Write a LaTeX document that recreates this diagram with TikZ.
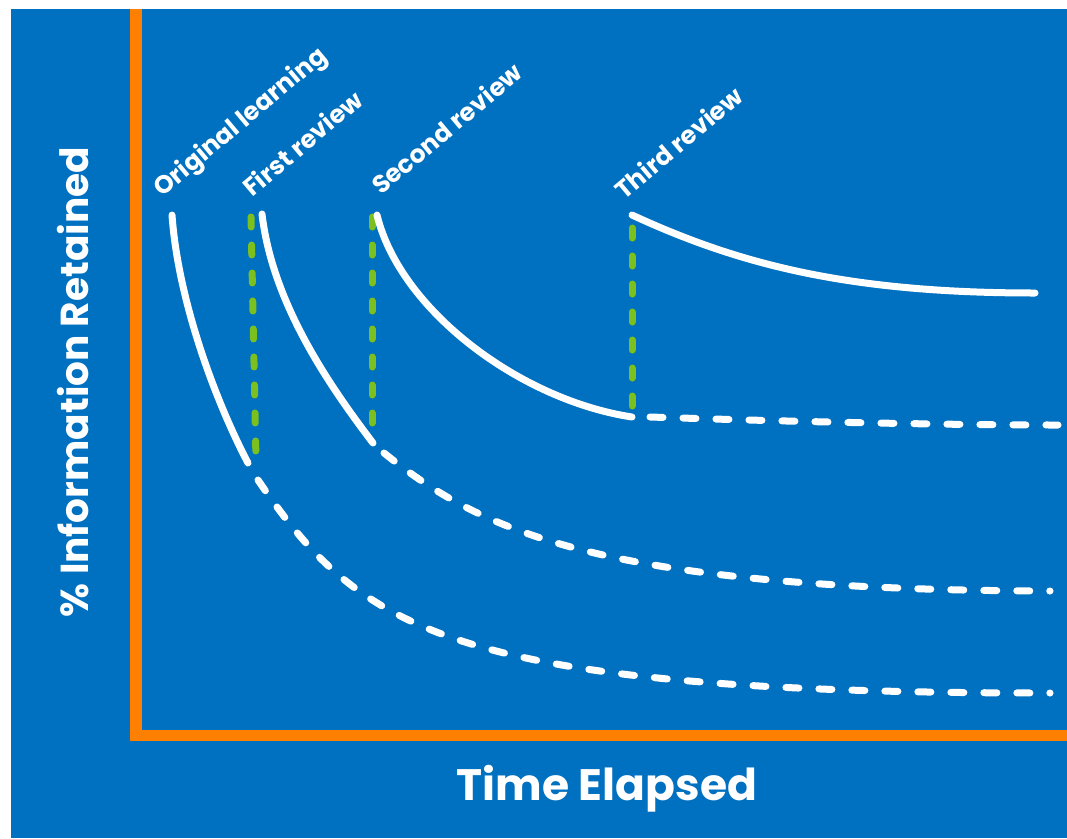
\documentclass[tikz,border=0pt]{standalone}
\usepackage{fontspec}
\setmainfont{Poppins}
\begin{document}
\begin{tikzpicture}[x=1pt,y=-1pt,
  solidw/.style={white,line width=7pt,line cap=round},
  dashw/.style={white,line width=7pt,line cap=round,dash pattern=on 13pt off 20pt},
  dashg/.style={draw=greenc,line width=7pt,line cap=round,dash pattern=on 10pt off 18pt},
  lbl/.style={text=white,font=\bfseries\fontsize{25}{25}\selectfont,rotate=40,anchor=base west,inner sep=0pt},
  axlbl/.style={text=white,font=\bfseries\fontsize{39}{39}\selectfont,inner sep=0pt}]
\definecolor{bluec}{RGB}{0,112,192}
\definecolor{orangec}{RGB}{255,128,0}
\definecolor{greenc}{RGB}{124,192,32}
\useasboundingbox (0,0) rectangle (1067,838);
\fill[white] (0,0) rectangle (1067,838);
\fill[bluec] (11,9) rectangle (1067,838);
% axes
\fill[orangec] (130,9) rectangle (142,741);
\fill[orangec] (130,730) rectangle (1067,741);
% axis labels
\node[axlbl,rotate=90] (ylab) at (73,382) {\% Information Retained};
\node[axlbl,font=\bfseries\fontsize{44}{44}\selectfont] (xlab) at (607,789) {Time Elapsed};
% review labels
\node[lbl] (l0) at (162,198) {Original learning};
\node[lbl] (l1) at (252,198) {First review};
\node[lbl] (l2) at (381,196) {Second review};
\node[lbl] (l3) at (624,201) {Third review};
% green review markers
\draw[dashg] (251,217) -- (256,460);
\draw[dashg] (372,217) -- (372,428);
\draw[dashg] (632,228) -- (632,410);
% curves
\draw[solidw] (172,215) .. controls (178,300) and (215,400) .. (248,463);
\draw[dashw] (258,480) .. controls (360,630) and (450,693) .. (1050,693);
\draw[solidw] (262,214) .. controls (272,300) and (325,380) .. (373,443);
\draw[dashw] (384,453) .. controls (480,530) and (600,590) .. (1050,591);
\draw[solidw] (377,215) .. controls (400,310) and (520,400) .. (632,417);
\draw[dashw] (650,417) .. controls (800,422) and (950,425) .. (1058,425);
\draw[solidw] (632,215) .. controls (740,265) and (850,293) .. (1035,293);
\end{tikzpicture}
\end{document}
